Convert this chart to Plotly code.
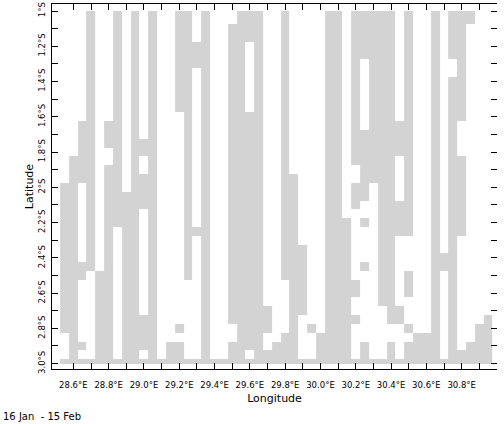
import numpy as np
import plotly.graph_objects as go

# Grid cell centres (deg)
lon = [28.55, 28.60, 28.65, 28.70, 28.75, 28.80, 28.85, 28.90, 28.95, 29.00,
       29.05, 29.10, 29.15, 29.20, 29.25, 29.30, 29.35, 29.40, 29.45, 29.50,
       29.55, 29.60, 29.65, 29.70, 29.75, 29.80, 29.85, 29.90, 29.95, 30.00,
       30.05, 30.10, 30.15, 30.20, 30.25, 30.30, 30.35, 30.40, 30.45, 30.50,
       30.55, 30.60, 30.65, 30.70, 30.75, 30.80, 30.85, 30.90, 30.95]
lat_s = [1.00, 1.05, 1.10, 1.15, 1.20, 1.25, 1.30, 1.35, 1.40, 1.45,
         1.50, 1.55, 1.60, 1.65, 1.70, 1.75, 1.80, 1.85, 1.90, 1.95,
         2.00, 2.05, 2.10, 2.15, 2.20, 2.25, 2.30, 2.35, 2.40, 2.45,
         2.50, 2.55, 2.60, 2.65, 2.70, 2.75, 2.80, 2.85, 2.90, 2.95, 3.00]

# Shaded (grey) latitude runs (deg S, inclusive) for each longitude column
gray_runs = [
    [(2.00, 2.80), (3.00, 3.00)],                                  # 28.55
    [(1.85, 3.00)],                                                # 28.60
    [(1.65, 1.95), (2.45, 2.50), (2.90, 2.90), (3.00, 3.00)],      # 28.65
    [(1.00, 2.45), (3.00, 3.00)],                                  # 28.70
    [(2.50, 3.00)],                                                # 28.75
    [(1.65, 1.75), (1.90, 3.00)],                                  # 28.80
    [(1.00, 2.20), (3.00, 3.00)],                                  # 28.85
    [(2.05, 3.00)],                                                # 28.90
    [(1.00, 3.00)],                                                # 28.95
    [(1.75, 1.80), (1.95, 2.10), (2.75, 2.90), (3.00, 3.00)],      # 29.00
    [(1.00, 3.00)],                                                # 29.05
    [(3.00, 3.00)],                                                # 29.10
    [(2.90, 3.00)],                                                # 29.15
    [(1.00, 1.55), (2.80, 2.80), (2.90, 3.00)],                    # 29.20
    [(1.00, 2.50), (3.00, 3.00)],                                  # 29.25
    [(1.20, 1.30), (2.25, 2.25), (3.00, 3.00)],                    # 29.30
    [(1.00, 3.00)],                                                # 29.35
    [(3.00, 3.00)],                                                # 29.40
    [(3.00, 3.00)],                                                # 29.45
    [(1.10, 2.75), (2.90, 3.00)],                                  # 29.50
    [(1.00, 3.00)],                                                # 29.55
    [(1.00, 1.15), (1.60, 2.90), (3.00, 3.00)],                    # 29.60
    [(1.00, 3.00)],                                                # 29.65
    [(2.70, 2.80), (2.95, 3.00)],                                  # 29.70
    [(2.90, 3.00)],                                                # 29.75
    [(1.00, 2.50), (2.85, 3.00)],                                  # 29.80
    [(1.95, 3.00)],                                                # 29.85
    [(2.35, 2.70), (3.00, 3.00)],                                  # 29.90
    [(2.80, 2.80), (3.00, 3.00)],                                  # 29.95
    [(2.85, 3.00)],                                                # 30.00
    [(1.00, 3.00)],                                                # 30.05
    [(1.00, 3.00)],                                                # 30.10
    [(2.20, 3.00)],                                                # 30.15
    [(1.00, 1.85), (2.00, 2.10), (2.55, 2.60), (2.75, 2.75), (3.00, 3.00)],  # 30.20
    [(1.00, 1.25), (1.70, 2.05), (2.20, 2.20), (2.45, 2.45), (2.90, 3.00)],  # 30.25
    [(1.00, 1.95), (3.00, 3.00)],                                  # 30.30
    [(1.00, 2.65), (3.00, 3.00)],                                  # 30.35
    [(1.00, 2.75), (2.90, 3.00)],                                  # 30.40
    [(1.65, 1.80), (2.10, 2.25), (2.70, 2.75), (3.00, 3.00)],      # 30.45
    [(1.00, 2.25), (2.50, 2.60), (2.80, 2.80), (2.90, 3.00)],      # 30.50
    [(2.85, 3.00)],                                                # 30.55
    [(2.85, 3.00)],                                                # 30.60
    [(1.00, 3.00)],                                                # 30.65
    [(2.40, 2.45), (3.00, 3.00)],                                  # 30.70
    [(1.00, 1.25), (1.40, 3.00)],                                  # 30.75
    [(1.00, 1.60), (1.85, 2.25), (2.95, 3.00)],                    # 30.80
    [(1.00, 1.05), (2.90, 3.00)],                                  # 30.85
    [(2.80, 3.00)],                                                # 30.90
    [(2.75, 3.00)],                                                # 30.95
]

lon_ticks = [28.6, 28.7, 28.8, 28.9, 29.0, 29.1, 29.2, 29.3, 29.4, 29.5, 29.6,
             29.7, 29.8, 29.9, 30.0, 30.1, 30.2, 30.3, 30.4, 30.5, 30.6, 30.7,
             30.8, 30.9, 31.0]
lon_labels = ["28.6°E", "", "28.8°E", "", "29.0°E", "", "29.2°E", "", "29.4°E", "",
              "29.6°E", "", "29.8°E", "", "30.0°E", "", "30.2°E", "", "30.4°E", "",
              "30.6°E", "", "30.8°E", "", ""]
lat_ticks = [1.0, 1.1, 1.2, 1.3, 1.4, 1.5, 1.6, 1.7, 1.8, 1.9, 2.0,
             2.1, 2.2, 2.3, 2.4, 2.5, 2.6, 2.7, 2.8, 2.9, 3.0]
lat_labels = ["1°S", "", "1.2°S", "", "1.4°S", "", "1.6°S", "", "1.8°S", "", "2°S",
              "", "2.2°S", "", "2.4°S", "", "2.6°S", "", "2.8°S", "", "3.0°S"]

# build mask
nlat, nlon = len(lat_s), len(lon)
z = np.full((nlat, nlon), np.nan)
lat_arr = np.array(lat_s)
for j, runs in enumerate(gray_runs):
    for a, b in runs:
        sel = (lat_arr >= a - 1e-6) & (lat_arr <= b + 1e-6)
        z[sel, j] = 1.0

# cell edges from centres (lat edges clipped at first/last point)
lon_arr = np.array(lon)
x_edges = np.concatenate([[lon_arr[0] - 0.025], (lon_arr[:-1] + lon_arr[1:]) / 2,
                          [lon_arr[-1] + 0.025]])
y_edges = np.concatenate([[lat_arr[0]], (lat_arr[:-1] + lat_arr[1:]) / 2, [lat_arr[-1]]])

fig = go.Figure()
fig.add_trace(go.Heatmap(
    z=z, x=x_edges, y=y_edges,
    colorscale=[[0, "#d3d3d3"], [1, "#d3d3d3"]],
    showscale=False, hoverinfo="skip", zmin=0, zmax=1,
))
# empty trace so the right-hand tick-only axis is drawn
fig.add_trace(go.Scatter(x=[], y=[], yaxis="y2", showlegend=False, hoverinfo="skip"))

x_range = [28.479, 31.0]
y_range = [3.0306, 0.9603]

font_fam = "DejaVu Sans"
fig.update_layout(
    width=504, height=424,
    margin=dict(l=52, r=7, t=4, b=55, autoexpand=False),
    paper_bgcolor="white", plot_bgcolor="white",
    font=dict(family=font_fam, color="black", size=9),
    showlegend=False,
    xaxis=dict(
        range=x_range, tickvals=lon_ticks, ticktext=lon_labels,
        ticks="inside", ticklen=6, tickwidth=1, tickcolor="black",
        showline=True, linecolor="black", linewidth=1, mirror="ticks",
        showgrid=False, zeroline=False, tickfont=dict(size=8.5), automargin=False,
        title=dict(text="Longitude", font=dict(size=11), standoff=5),
        ticklabelstandoff=8,
    ),
    yaxis=dict(
        range=y_range, tickvals=lat_ticks, ticktext=lat_labels,
        ticks="inside", ticklen=6, tickwidth=1, tickcolor="black",
        showline=True, linecolor="black", linewidth=1, mirror=False,
        showgrid=False, zeroline=False, tickangle=-90, tickfont=dict(size=8.5),
        automargin=False,
        title=dict(text="Latitude", font=dict(size=11), standoff=0),
        ticklabelstandoff=3,
    ),
    yaxis2=dict(
        overlaying="y", side="right", range=y_range, tickvals=lat_ticks,
        showticklabels=False, ticks="inside", ticklen=6, tickwidth=1,
        tickcolor="black", showline=False, showgrid=False, zeroline=False,
        automargin=False,
    ),
    annotations=[dict(
        text="16 Jan \u00a0- 15 Feb", xref="paper", yref="paper",
        x=-0.115, y=-0.131, xanchor="left", yanchor="middle",
        showarrow=False, font=dict(size=10),
    )],
)

fig.write_html(
    "out.html",
    config={"displayModeBar": False},
    post_script="document.body.style.margin='0';document.body.style.padding='0';",
)
